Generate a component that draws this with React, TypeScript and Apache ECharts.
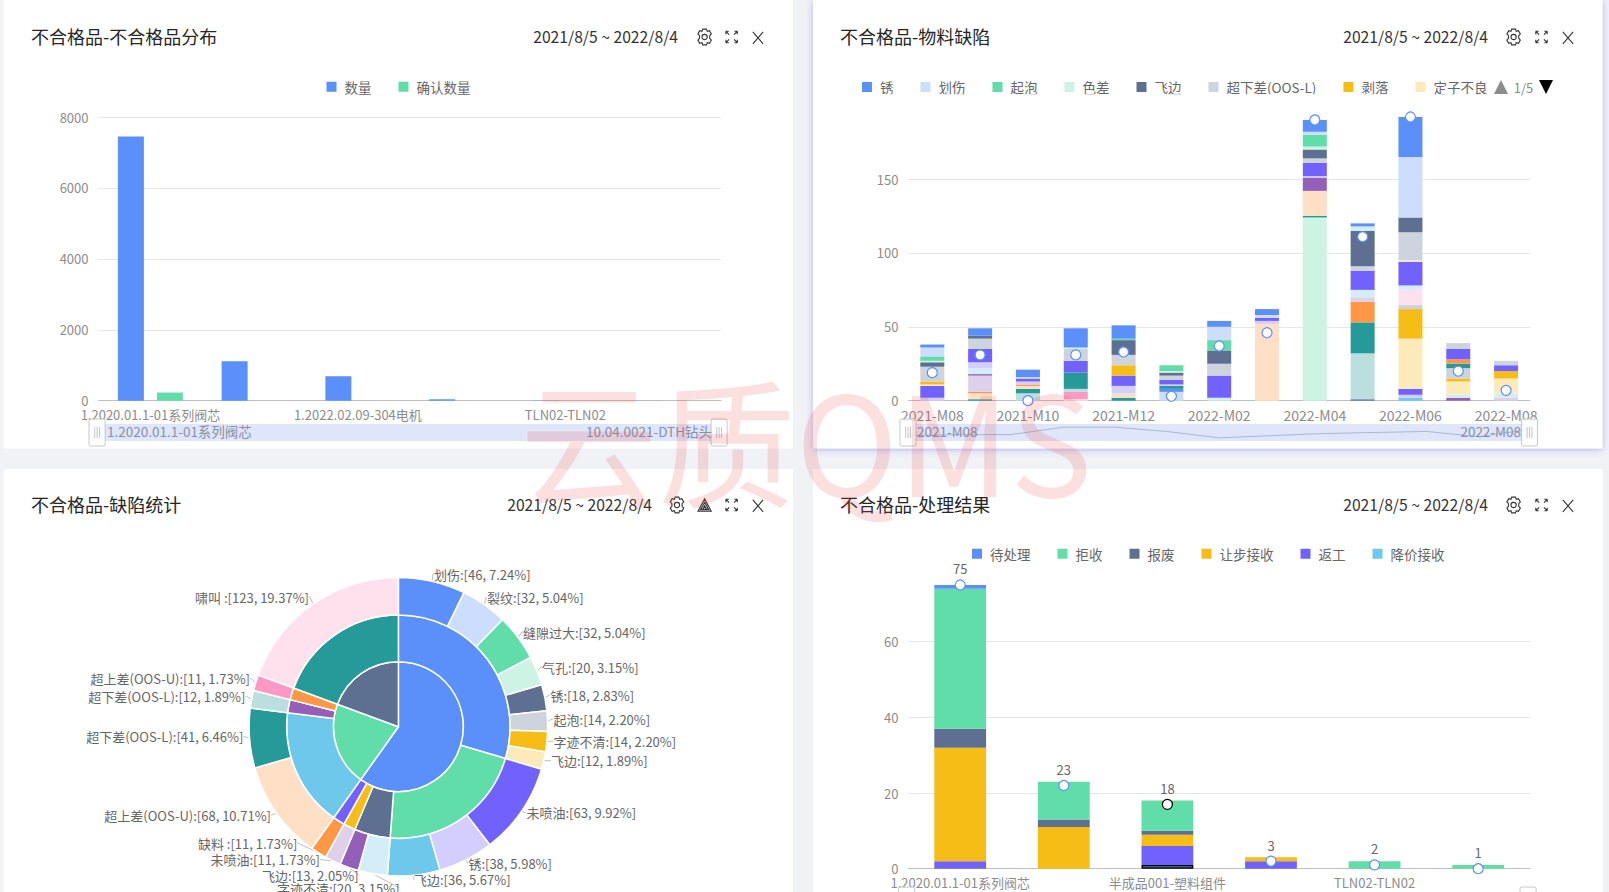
import React, { useEffect, useRef } from "react";
import * as echarts from "echarts";

const FONT = '"Noto Sans CJK SC", "Noto Sans", sans-serif';
const palette = ["#5B8FF9","#CDDDFD","#61DDAA","#CDF3E4","#5D7092","#CED4DE","#F6BD16","#FCEBB9","#7262FD","#D3CEFD","#6DC8EC","#D3EEF9","#945FB9","#DECFEA","#FF9845","#FFE0C7","#269A99","#BBDEDE","#FF99C3","#FFE0ED"];

const dateRange = "2021/8/5 ~ 2022/8/4";

// Chart 1
const partCategories = ["1.2020.01.1-01系列阀芯","半成品001-塑料组件","1.2022.02.09-304电机","2.2021.03.05-轴承","TLN02-TLN02","10.04.0021-DTH钻头"];
const partQty = [7450,1110,690,40,6,3];
const partConfirmed = [230,0,0,0,0,0];

// Chart 2
const months = ["2021-M08","2021-M09","2021-M10","2021-M11","2021-M12","2022-M01","2022-M02","2022-M03","2022-M04","2022-M05","2022-M06","2022-M07","2022-M08"];
const defectNames = ["锈","划伤","起泡","色差","飞边","超下差(OOS-L)","剥落","定子不良","未喷油","缺料","裂纹","缝隙过大","气孔","字迹不清","超上差(OOS-U)","啸叫","砂眼","毛刺","变形","脱漆","污渍","磕碰","错料","少件","多件","标识错误","包装破损","开裂","氧化","缩水","披锋","断裂","漏装","异响"];
const defectValues = [
  [2,5,5,13,9,0,4,4,8,2,27,0,0],
  [6,0,1,0,0,0,9,2,2,1,41,0,0],
  [3,0,0,0,1,4,7,0,8,0,0,0,0],
  [1,0,0,1,0,1,0,0,2,2,0,0,0],
  [3,2,0,0,10,2,9,0,6,24,10,0,0],
  [10,7,0,8,7,3,8,0,3,3,19,4,3],
  [2,0,0,0,7,0,0,0,0,0,0,0,0],
  [1,0,0,0,0,0,0,0,0,0,1,0,0],
  [8,9,2,8,7,3,15,2,9,13,16,7,4],
  [2,4,1,0,5,1,0,2,1,0,0,0,0],
  [0,0,0,0,0,0,0,0,0,0,0,0,0],
  [0,4,0,0,0,0,1,0,0,5,3,0,0],
  [0,1,0,0,0,0,0,0,9,0,0,0,0],
  [0,11,1,0,0,0,0,0,0,3,0,0,0],
  [0,1,1,0,0,0,0,0,0,14,0,3,0],
  [0,4,2,0,3,0,0,52,17,0,0,0,0],
  [0,1,3,11,2,2,0,0,1,21,0,3,0],
  [0,0,5,2,0,0,0,0,0,31,0,0,0],
  [0,0,0,5,0,0,0,0,0,0,0,0,0],
  [0,0,0,1,0,0,0,0,0,0,10,0,0],
  [0,0,0,0,0,2,0,0,0,0,0,0,0],
  [0,0,0,0,0,6,0,0,0,0,0,0,0],
  [0,0,0,0,0,0,0,0,0,0,0,0,0],
  [0,0,0,0,0,0,1,0,124,0,0,0,0],
  [0,0,0,0,0,0,0,0,0,1,0,0,0],
  [0,0,0,0,0,0,0,0,0,0,3,7,0],
  [0,0,0,0,0,0,0,0,0,0,20,2,5],
  [0,0,0,0,0,0,0,0,0,0,34,9,10],
  [0,0,0,0,0,0,0,0,0,0,4,0,0],
  [0,0,0,0,0,0,0,0,0,0,2,0,0],
  [0,0,0,0,0,0,0,0,0,0,2,0,0],
  [0,0,0,0,0,0,0,0,0,0,0,2,3],
  [0,0,0,0,0,0,0,0,0,0,0,2,0],
  [0,0,0,0,0,0,0,0,0,0,0,0,2],
];
const monthDots = [19,31,0,31,33,3,37,46,190,111,192,20,7];
const monthSlider = [4,5,5,12,12,8,2,4,6,7,8,3,10];

// Chart 3
const innerRing = [["合格",380],["待定",132],["其他",123]];
const middleRing = [["外观",188],["涂装",137],["标识",33],["缺陷A",11],["缺陷B",11],["尺寸",109],["公差",12],["超差",11],["噪音",123]];
const outerRing = [["划伤",46],["裂纹",32],["缝隙过大",32],["气孔",20],["锈",18],["起泡",14],["字迹不清",14],["飞边",12],["未喷油",63],["锈",38],["飞边",36],["字迹不清",20],["飞边",13],["未喷油",11],["缺料 ",11],["超上差(OOS-U)",68],["超下差(OOS-L)",41],["超下差(OOS-L)",12],["超上差(OOS-U)",11],["啸叫 ",123]];
const outerTotal = 635;

// Chart 4
const resultCategories = ["1.2020.01.1-01系列阀芯","2.2021.03.05-轴承","半成品001-塑料组件","1.2022.02.09-304电机","TLN02-TLN02","10.04.0021-DTH钻头"];
const resultNames = ["待处理","拒收","报废","让步接收","返工","降价接收"];
const resultColors = ["#5B8FF9","#61DDAA","#5D7092","#F6BD16","#7262FD","#6DC8EC"];
const resultValues = [
  [1,0,0,0,0,0],
  [37,10,8,0,2,1],
  [5,2,1,0,0,0],
  [30,11,3,1,0,0],
  [2,0,5,2,0,0],
  [0,0,1,0,0,0],
];
const resultTotals = [75,23,18,3,2,1];
const resultDots = [75,22,17,2,1,0];

// where each outer-ring label sits: [edge x, centre y, alignment]
const PIE_LABEL_SPOTS: [number, number, string][] = [
  [434,574,"left"],[487,597.7,"left"],[523,632,"left"],[542,667,"left"],[550.5,695,"left"],[553.6,719,"left"],[553.6,741,"left"],[551,760.7,"left"],[526.5,812.7,"left"],
  [468.4,863,"left"],[414,879.7,"left"],[277,888,"left"],[358.7,875,"right"],[320,859.7,"right"],[297.4,843.3,"right"],[271,815,"right"],[243.4,736.7,"right"],[245.4,696.3,"right"],[250,678.5,"right"],[309,597,"right"],
];

const GEAR = "M9.5 1.5h5l1 3 3-1 2.5 4.5-2.2 2.2v3.6l2.2 2.2-2.5 4.5-3-1-1 3h-5l-1-3-3 1L3 16l2.2-2.2v-3.6L3 8l2.5-4.5 3 1zM12 8.5a3.5 3.5 0 1 0 0 7a3.5 3.5 0 1 0 0-7z";
const EXPAND = "M1 1L5 5M1 1H4.5M1 1V4.5M15 1L11 5M15 1H11.5M15 1V4.5M1 15L5 11M1 15H4.5M1 15V11.5M15 15L11 11M15 15H11.5M15 15V11.5";
const CROSS = "M1 1L13 15M13 1L1 15";
const LAYERS = "M8 1L15.5 15H.5ZM8 5L12.5 13H3.5ZM8 9L10.3 13H5.7Z";

function reg(name: string, d: string) {
  echarts.graphic.registerShape(name, (echarts.graphic as any).extendPath(d, {}));
}
reg("gearIcon", GEAR);
reg("expandIcon", EXPAND);
reg("crossIcon", CROSS);
reg("layersIcon", LAYERS);

const HANDLE = "path://M2,0h12a2,2 0 0 1 2,2v23a2,2 0 0 1 -2,2h-12a2,2 0 0 1 -2,-2v-23a2,2 0 0 1 2,-2zM5.6,8v11M8,8v11M10.4,8v11";

const tileShadow = { shadowColor: "rgba(110,100,235,0.45)", shadowBlur: 7, shadowOffsetY: 1 };

function card(x: number, y: number, w: number, h: number, extra: any = {}) {
  return { type: "rect", z: -20, shape: { x, y, width: w, height: h }, style: { fill: "#fff", ...extra }, silent: true };
}
function text(x: number, y: number, s: string, size: number, fill: string, align = "left", z = 30) {
  return { type: "text", x, y, z, silent: true, style: { text: s, font: `${size}px ${FONT}`, fill, align, verticalAlign: "middle" } };
}
function icon(type: string, cx: number, cy: number, w: number, vw: number) {
  const s = w / vw;
  return { type, x: cx - w / 2, y: cy - w / 2, scaleX: s, scaleY: s, z: 30, silent: true, style: { fill: "none", stroke: "#333", lineWidth: 1.1 / s } };
}

function header(title: string, titleX: number, dateRight: number, y: number, icons: any[]) {
  return [text(titleX, y, title, 18, "#262626"), text(dateRight, y, dateRange, 15.7, "#333", "right"), ...icons];
}

function xAxis(gridIndex: number, data: string[], fontSize = 13) {
  return {
    type: "category", gridIndex, data, boundaryGap: true,
    axisLine: { lineStyle: { color: "#BFBFBF", width: 1 } },
    axisTick: { alignWithLabel: true, interval: 1, length: 4, lineStyle: { color: "#BFBFBF" } },
    axisLabel: { interval: 1, color: "#8C8C8C", fontSize, fontFamily: FONT, margin: 7 },
  };
}
function yAxis(gridIndex: number, max: number, interval: number, hideMax: boolean) {
  return {
    type: "value", gridIndex, min: 0, max, interval,
    axisLine: { show: false }, axisTick: { show: false },
    axisLabel: { color: "#8C8C8C", fontSize: 13, fontFamily: FONT, margin: 10, padding: [0, 0, 3, 0], showMaxLabel: !hideMax, formatter: (v: number) => String(v) },
    splitLine: { showMaxLine: !hideMax, lineStyle: { color: "#E6E6E6", width: 1 } },
  };
}
function slider(index: number, left: number, right: number, top: number, shadow: boolean) {
  return {
    type: "slider", xAxisIndex: index, left, width: right - left, top, height: 17,
    start: 0, end: 100, showDetail: false, brushSelect: false, moveHandleSize: 0, showDataShadow: shadow,
    backgroundColor: "transparent", borderColor: "transparent", fillerColor: "rgba(130,160,230,0.26)",
    handleIcon: HANDLE, handleSize: "160%",
    handleStyle: { color: "#fff", borderColor: "#BDBDBD", borderWidth: 1, opacity: 0.85 },
    dataBackground: { lineStyle: { color: "#B4BED4", width: 1, opacity: 1 }, areaStyle: { opacity: 0 } },
    selectedDataBackground: { lineStyle: { color: "#B4BED4", width: 1, opacity: 1 }, areaStyle: { opacity: 0 } },
  };
}
function legendBase(names: string[], left: number, top: number) {
  return {
    data: names, left, top, itemWidth: 10, itemHeight: 10, itemGap: 27, icon: "rect", selectedMode: false,
    textStyle: { color: "#666", fontSize: 13.5, fontFamily: FONT, padding: [0, 0, 0, 3] },
  };
}
function dotStyle(border = "#5B8FF9") {
  return { color: "#fff", borderColor: border, borderWidth: 1.2 };
}

function buildOption() {
  const series: any[] = [];
  // chart 1
  series.push({ type: "bar", name: "数量", xAxisIndex: 0, yAxisIndex: 0, data: partQty, barWidth: 26, barGap: "50%", itemStyle: { color: palette[0] } });
  series.push({ type: "bar", name: "确认数量", xAxisIndex: 0, yAxisIndex: 0, data: partConfirmed, barWidth: 26, barGap: "50%", itemStyle: { color: palette[2] } });

  // chart 2: the first legend entry sits on top of the stack
  series.push({ type: "line", name: "s2", xAxisIndex: 1, yAxisIndex: 1, data: monthSlider, symbol: "none", lineStyle: { width: 0, opacity: 0 }, silent: true });
  for (let i = defectNames.length - 1; i >= 0; i--) {
    series.push({ type: "bar", name: defectNames[i], stack: "defects", xAxisIndex: 1, yAxisIndex: 1, barWidth: 24, data: defectValues[i], itemStyle: { color: palette[i % 20] } });
  }
  series.push({ type: "line", name: "合计", xAxisIndex: 1, yAxisIndex: 1, data: monthDots, symbol: "circle", symbolSize: 10, clip: false, z: 6, lineStyle: { width: 0, opacity: 0 }, itemStyle: dotStyle() });

  // chart 3
  const toData = (rows: any[], step: number) => rows.map(([name, value], i) => ({ name, value, itemStyle: { color: palette[(i * step) % 20] } }));
  const center = [398.4, 726.7];
  const pieBase = { type: "pie", center, startAngle: 90, clockwise: true, itemStyle: { borderColor: "#fff", borderWidth: 1.5 } };
  series.push({ ...pieBase, name: "内", radius: [0, 65], data: toData(innerRing, 2), label: { show: false }, labelLine: { show: false } });
  series.push({ ...pieBase, name: "中", radius: [65, 111.7], data: toData(middleRing, 2), label: { show: false }, labelLine: { show: false } });
  series.push({
    ...pieBase, name: "外", radius: [111.7, 149.3], data: toData(outerRing, 1),
    label: { formatter: (p: any) => `${p.name}:[${p.value}, ${((p.value / outerTotal) * 100).toFixed(2)}%]`, color: "#666", fontSize: 13, fontFamily: FONT },
    labelLine: { length: 2, length2: 1, lineStyle: { color: "#BFBFBF", width: 1 } },
    labelLayout: (p: any) => {
      const [x, y, align] = PIE_LABEL_SPOTS[p.dataIndex];
      return { x, y, align, verticalAlign: "middle" };
    },
  });

  // chart 4
  for (let i = resultNames.length - 1; i >= 0; i--) {
    series.push({
      type: "bar", name: resultNames[i], stack: "results", xAxisIndex: 2, yAxisIndex: 2, barWidth: "50%",
      itemStyle: { color: resultColors[i] },
      data: resultValues[i].map((v, k) => (i === 5 && k === 2 ? { value: v, itemStyle: { color: resultColors[i], borderColor: "#000", borderWidth: 1.5 } } : v)),
    });
  }
  series.push({
    type: "line", name: "总计", xAxisIndex: 2, yAxisIndex: 2, symbol: "circle", symbolSize: 10, clip: false, z: 6,
    lineStyle: { width: 0, opacity: 0 }, itemStyle: dotStyle(),
    data: resultDots.map((v, k) => (k === 2 ? { value: v, symbolSize: 10, itemStyle: dotStyle("#000") } : v)),
    label: { show: true, position: "top", distance: 4, color: "#666", fontSize: 13, fontFamily: FONT, formatter: (p: any) => String(resultTotals[p.dataIndex]) },
  });

  const crossW = 12;
  const graphic = [
    card(4, 0, 789, 448.5),
    card(813, 0, 789.5, 448.5, tileShadow),
    card(4, 469, 789, 423),
    card(813, 469, 789.5, 423),
    ...header("不合格品-不合格品分布", 31, 678, 36, [icon("gearIcon", 704.6, 37, 18, 24), icon("expandIcon", 731.6, 37, 13, 16), icon("crossIcon", 758, 37, crossW, 14)]),
    ...header("不合格品-物料缺陷", 840, 1488, 36, [icon("gearIcon", 1513.6, 37, 18, 24), icon("expandIcon", 1541.5, 37, 13, 16), icon("crossIcon", 1568, 37, crossW, 14)]),
    ...header("不合格品-缺陷统计", 31, 652, 504, [icon("gearIcon", 677, 505, 18, 24), icon("layersIcon", 704.6, 505, 14, 16), icon("expandIcon", 731.6, 505, 13, 16), icon("crossIcon", 758, 505, crossW, 14)]),
    ...header("不合格品-处理结果", 840, 1488, 504, [icon("gearIcon", 1513.6, 505, 18, 24), icon("expandIcon", 1541.5, 505, 13, 16), icon("crossIcon", 1568, 505, crossW, 14)]),
    text(107, 431, partCategories[0], 13.5, "#8790A8"),
    text(712, 431, partCategories[5], 13.5, "#8790A8", "right"),
    text(917, 431, months[0], 13.5, "#8790A8"),
    text(1521, 431, months[12], 13.5, "#8790A8", "right"),
    { type: "text", x: 806, y: 437, z: 100, silent: true, style: { text: "云质QMS", font: `138px ${FONT}`, fill: "rgba(240,70,70,0.17)", align: "center", verticalAlign: "middle" } },
  ];

  return {
    animation: false,
    backgroundColor: "#F0F2F5",
    textStyle: { fontFamily: FONT },
    grid: [
      { left: 98.5, top: 117, width: 622.5, height: 283.7, containLabel: false },
      { left: 908.4, top: 117, width: 621.6, height: 283.7, containLabel: false },
      { left: 908.4, top: 585, width: 621.6, height: 283.7, containLabel: false },
    ],
    xAxis: [xAxis(0, partCategories), xAxis(1, months, 14), xAxis(2, resultCategories)],
    yAxis: [yAxis(0, 8000, 2000, false), yAxis(1, 192, 50, true), yAxis(2, 75, 20, true)],
    dataZoom: [slider(0, 95, 719, 424, false), slider(1, 904.5, 1528, 424, true), slider(2, 904.5, 1528, 892, false)],
    legend: [
      legendBase(["数量", "确认数量"], 321.5, 75),
      {
        ...legendBase(defectNames, 857, 75), type: "scroll", width: 691, pageButtonPosition: "end", pageButtonItemGap: 0, pageButtonGap: 1,
        pageIcons: { horizontal: ["path://M5,0L10,10L0,10Z", "path://M0,0L10,0L5,10Z"] }, pageIconSize: 14,
        pageIconColor: "#000", pageIconInactiveColor: "#8C8C8C", pageTextStyle: { color: "#8C8C8C", fontSize: 13, fontFamily: FONT },
      },
      legendBase(resultNames, 967, 542),
    ],
    series,
    graphic,
  };
}

export default function App() {
  const ref = useRef<HTMLDivElement>(null);
  useEffect(() => {
    const chart = echarts.init(ref.current!, undefined, { renderer: "svg" });
    chart.setOption(buildOption() as any);
    return () => chart.dispose();
  }, []);
  return <div ref={ref} style={{ position: "fixed", left: 0, top: 0, width: 1609, height: 892 }} />;
}
